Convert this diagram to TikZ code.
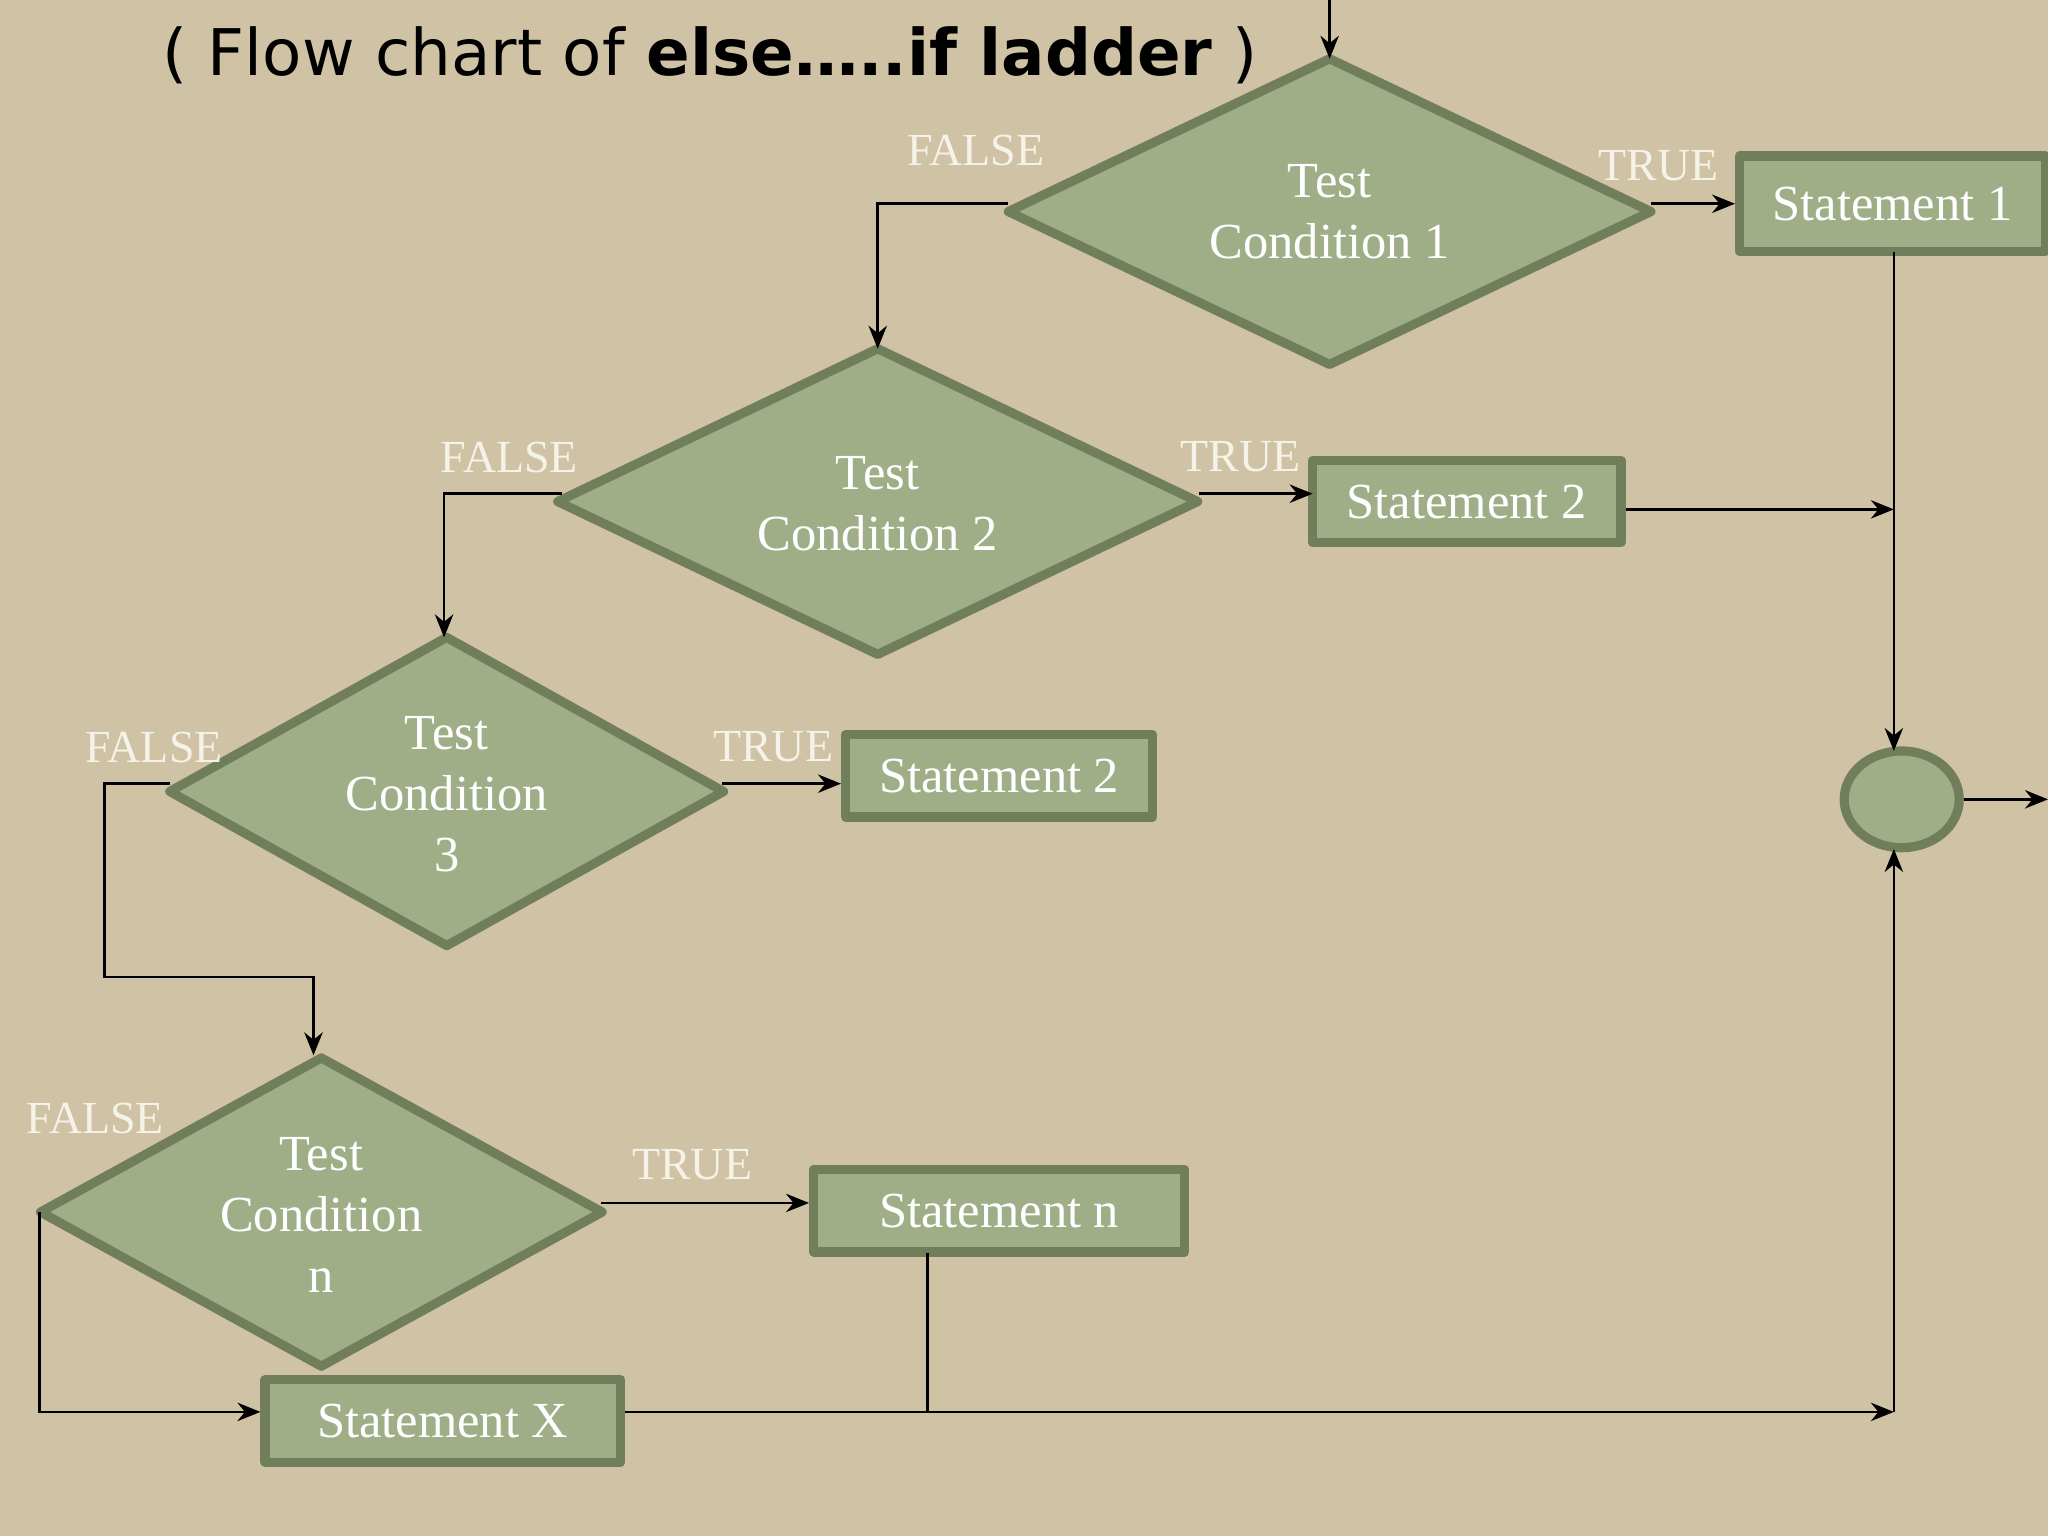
\documentclass[tikz,border=0pt]{standalone}
\usepackage{fontspec}
\setmainfont{Liberation Serif}
\newfontfamily\titlefont{DejaVu Sans}
\usetikzlibrary{arrows.meta,shapes.geometric}
\definecolor{bg}{RGB}{207,194,165}
\definecolor{shfill}{RGB}{160,174,136}
\definecolor{shdraw}{RGB}{112,126,92}
\definecolor{lbl}{RGB}{245,243,232}
\tikzset{
  shp/.style={fill=shfill,draw=shdraw,line width=2pt,line join=round},
  box/.style={shp,rectangle,inner sep=0pt,text=white,font=\fontsize{11}{13}\selectfont},
  ln/.style={black,line width=0.6pt},
  arr/.style={ln,-{Stealth[length=5pt,width=4pt]}},
  lab/.style={text=lbl,font=\fontsize{10}{12}\selectfont},
  dtext/.style={text=white,font=\fontsize{11}{13.3}\selectfont,align=center}
}
\begin{document}
\begin{tikzpicture}[x=0.01cm,y=-0.01cm]
\fill[bg] (0,0) rectangle (1568,1176);
\useasboundingbox (0,0) rectangle (1568,1176);
% title
\node[anchor=west,font=\titlefont\fontsize{14}{17}\selectfont] (title) at (112,42) {( Flow chart of \textbf{else\dots..if ladder} )};
% diamonds
\foreach \n/\x/\y/\w/\h in {d1/1018/162/246/117, d2/672/384/245/117, d3/342/606/212/118, dn/246/928/215/118}{
  \coordinate (\n-t) at (\x,\y-\h);
  \coordinate (\n-b) at (\x,\y+\h);
  \coordinate (\n-l) at (\x-\w,\y);
  \coordinate (\n-r) at (\x+\w,\y);
  \draw[shp] (\n-t) -- (\n-r) -- (\n-b) -- (\n-l) -- cycle;
}
\node[dtext] (t1) at (1018,162) {Test\\Condition 1};
\node[dtext] (t2) at (672,386) {Test\\Condition 2};
\node[dtext] (t3) at (342,608) {Test\\Condition\\3};
\node[dtext] (tn) at (246,930) {Test\\Condition\\n};
% boxes
\node[box,minimum width=2.34cm,minimum height=0.73cm] (s1) at (1449,156) {Statement 1};
\node[box,minimum width=2.36cm,minimum height=0.63cm] (s2a) at (1123,384) {Statement 2};
\node[box,minimum width=2.35cm,minimum height=0.63cm] (s2b) at (765,594) {Statement 2};
\node[box,minimum width=2.84cm,minimum height=0.63cm] (sn) at (765,927) {Statement n};
\node[box,minimum width=2.72cm,minimum height=0.63cm] (sx) at (339,1088) {Statement X};
\node[shp,ellipse,minimum width=0.88cm,minimum height=0.74cm,inner sep=0pt] (c) at (1456,612) {};
% coordinates
\coordinate (top) at (1018,0);
\coordinate (j1) at (1450,390);
\coordinate (j2) at (1450,1081);
\coordinate (cin) at (1450,575);
\coordinate (cbot) at (1450,650);
\coordinate (out) at (1568,612);
% connectors
\draw[arr] (top) -- (d1-t);
\draw[arr] (772,156) -- (672,156) -- (d2-t);
\draw[arr] (1264,156) -- (s1.west);
\draw[arr] (1450,193) -- (cin);
\draw[arr] (430,378) -- (340,378) -- (340,488);
\draw[arr] (918,378) -- (1005,378);
\draw[arr] (s2a.east |- j1) -- (j1);
\draw[arr] (130,600) -- (80,600) -- (80,748) -- (240,748) -- (240,808);
\draw[arr] (553,600) -- (s2b.west |- 0,600);
\draw[arr] (30,928) -- (30,1081) -- (sx.west |- j2);
\draw[arr] (460,921) -- (sn.west |- 0,921);
\draw[ln] (710,959) -- (710,1081);
\draw[arr] (sx.east |- j2) -- (j2);
\draw[arr] (j2) -- (cbot);
\draw[arr] (c.east) -- (out);
% labels
\node[lab] (f1) at (747,115) {FALSE};
\node[lab] (tr1) at (1270,127) {TRUE};
\node[lab] (f2) at (390,350) {FALSE};
\node[lab] (tr2) at (950,350) {TRUE};
\node[lab] (f3) at (118,572) {FALSE};
\node[lab] (tr3) at (592,572) {TRUE};
\node[lab] (fn) at (73,856) {FALSE};
\node[lab] (trn) at (530,892) {TRUE};
\end{tikzpicture}
\end{document}
